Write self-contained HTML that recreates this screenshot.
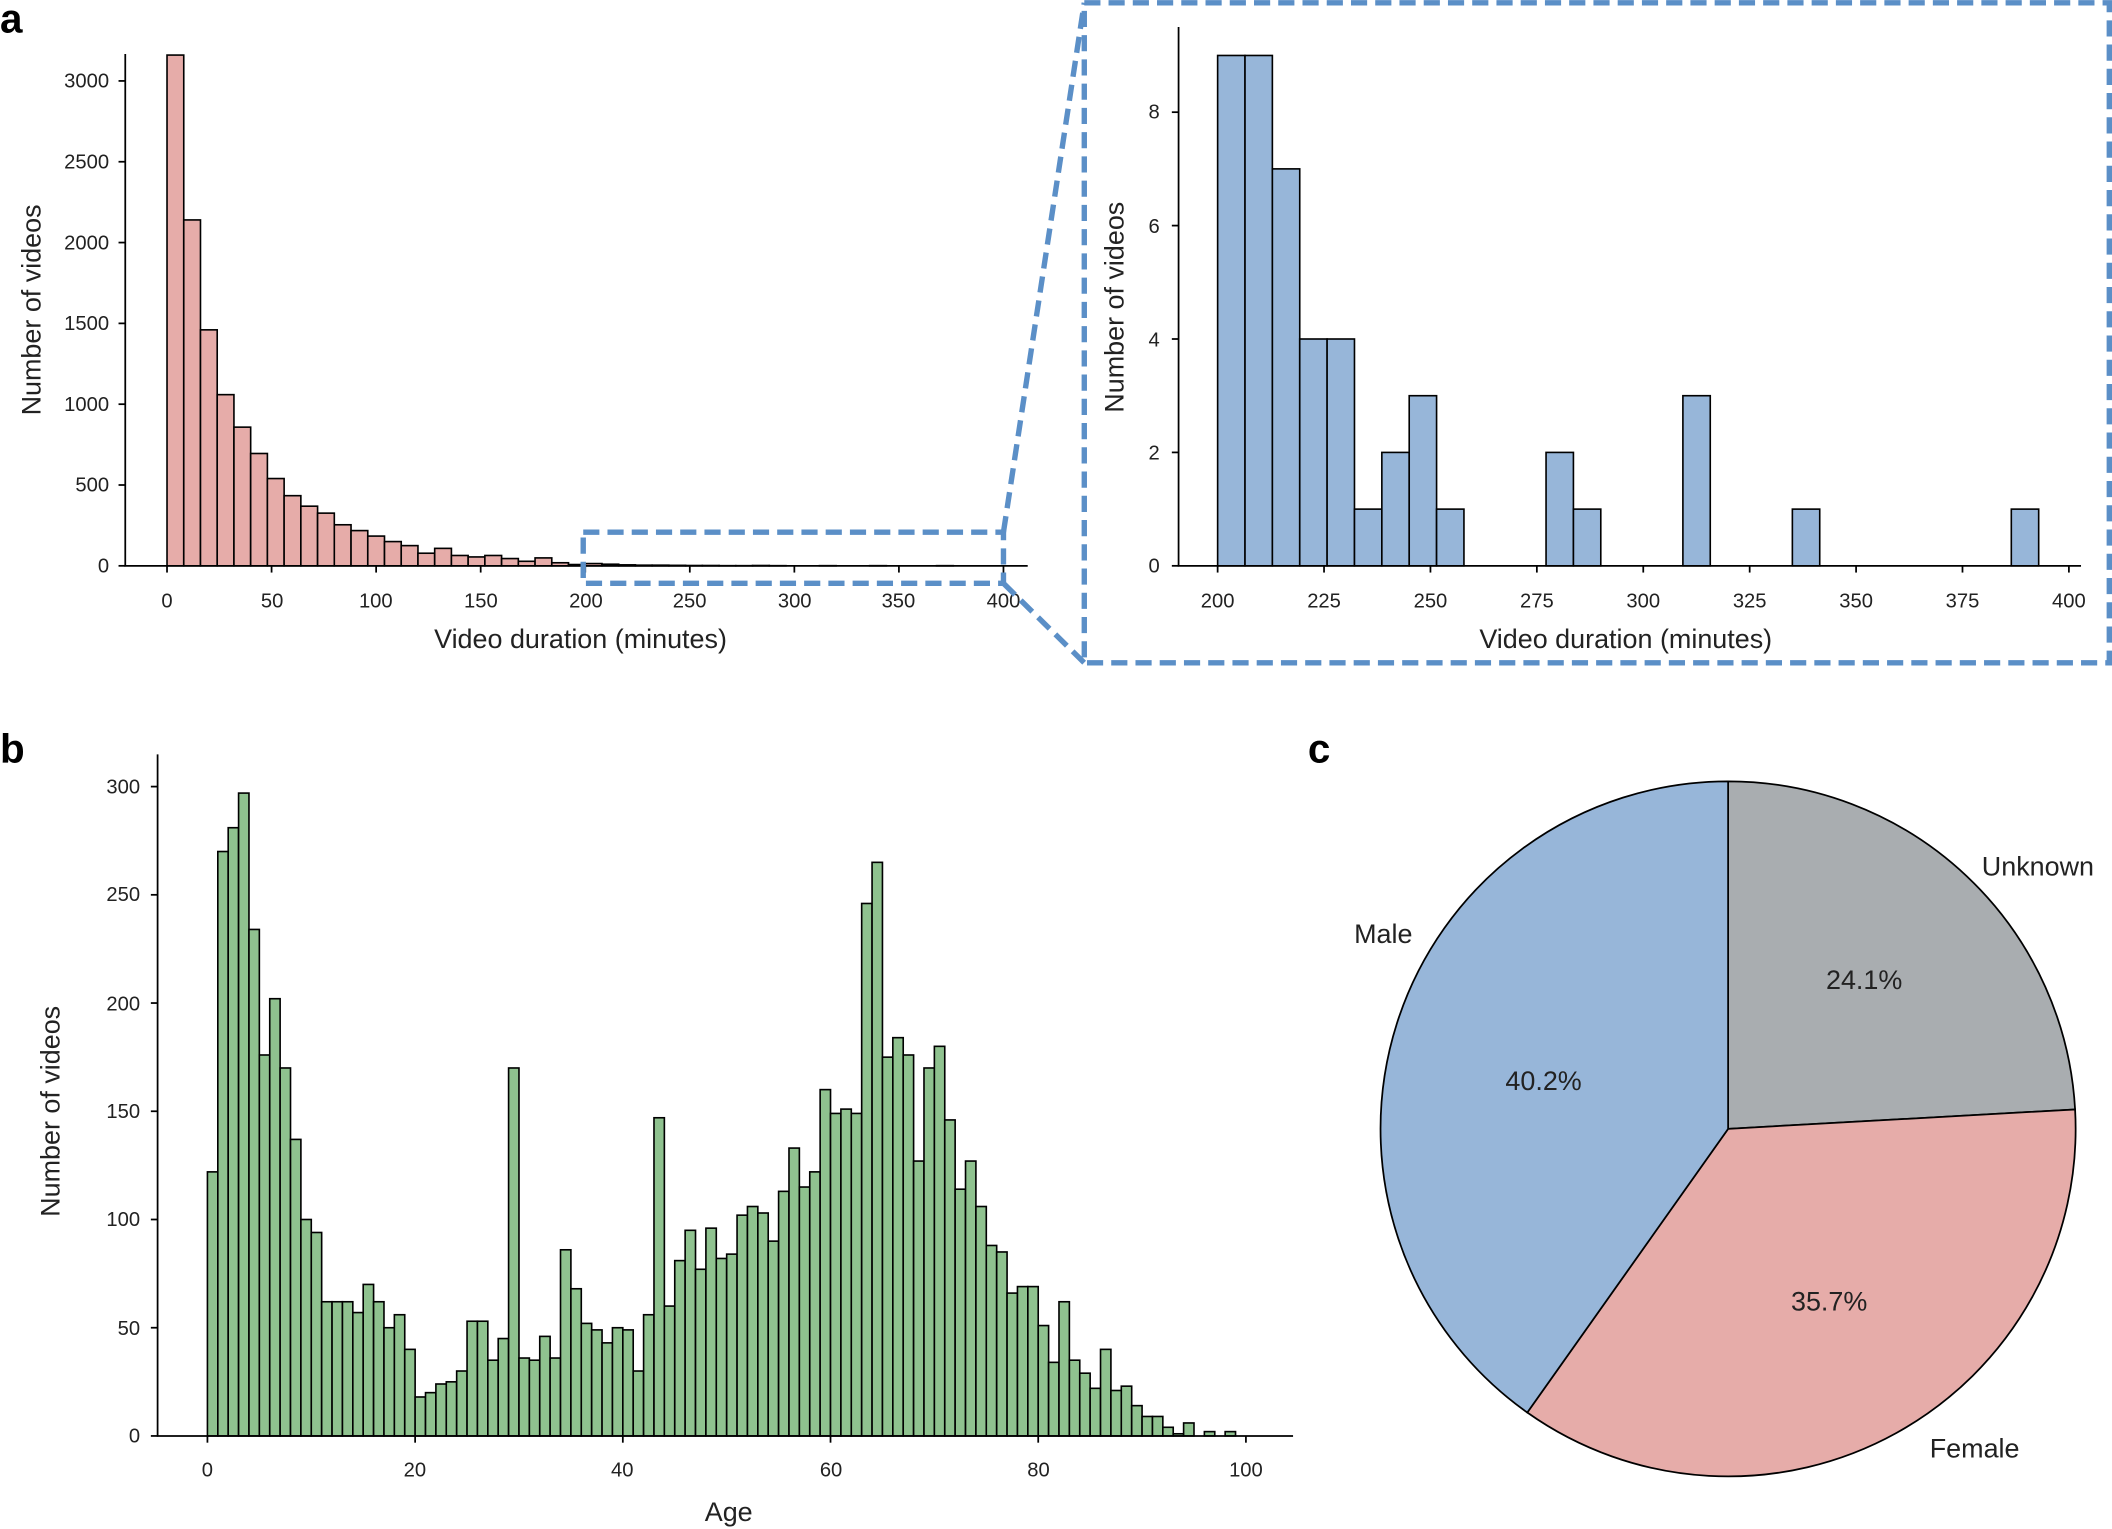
<!DOCTYPE html>
<html><head><meta charset="utf-8"><style>
html,body{margin:0;padding:0;background:#fff;}
svg{display:block;}
text{font-family:"Liberation Sans",Arial,sans-serif;fill:#222;}
.t{font-size:15px;}
.l{font-size:20px;}
.p{font-size:30px;font-weight:bold;fill:#000;}
</style></head><body>
<svg id="s" xmlns="http://www.w3.org/2000/svg" width="2112" height="1529" viewBox="0 0 1568 1135">
<rect width="1568" height="1135" fill="#fff"/>
<g id="ga"></g><g id="gi"></g><g id="gb"></g>
<g stroke="#000" stroke-width="1.3" fill="none">
<path d="M93,40V420H763"/>
<path d="M875,20V420H1545"/>
<path d="M117,560V1066H960"/>
</g>
<g id="ticks" stroke="#000" stroke-width="1.3"></g>
<g class="t" text-anchor="end">
<text x="81" y="425" class="t">0</text><text x="81" y="365" class="t">500</text><text x="81" y="305" class="t">1000</text><text x="81" y="245" class="t">1500</text><text x="81" y="185" class="t">2000</text><text x="81" y="125" class="t">2500</text><text x="81" y="65" class="t">3000</text>
</g>
<g class="t" text-anchor="middle">
<text x="124" y="451">0</text><text x="202" y="451">50</text><text x="279" y="451">100</text><text x="357" y="451">150</text><text x="435" y="451">200</text><text x="512" y="451">250</text><text x="590" y="451">300</text><text x="667" y="451">350</text><text x="745" y="451">400</text>
</g>
<text class="l" x="431" y="481" text-anchor="middle">Video duration (minutes)</text>
<text class="l" x="0" y="0" text-anchor="middle" transform="translate(30,230) rotate(-90)">Number of videos</text>
<g class="t" text-anchor="end">
<text x="861" y="425">0</text><text x="861" y="341">2</text><text x="861" y="257">4</text><text x="861" y="173">6</text><text x="861" y="88">8</text>
</g>
<g class="t" text-anchor="middle">
<text x="904" y="451">200</text><text x="983" y="451">225</text><text x="1062" y="451">250</text><text x="1141" y="451">275</text><text x="1220" y="451">300</text><text x="1299" y="451">325</text><text x="1378" y="451">350</text><text x="1457" y="451">375</text><text x="1536" y="451">400</text>
</g>
<text class="l" x="1207" y="481" text-anchor="middle">Video duration (minutes)</text>
<text class="l" x="0" y="0" text-anchor="middle" transform="translate(834,228) rotate(-90)">Number of videos</text>
<g class="t" text-anchor="end">
<text x="104" y="1071">0</text><text x="104" y="991">50</text><text x="104" y="910">100</text><text x="104" y="830">150</text><text x="104" y="750">200</text><text x="104" y="669">250</text><text x="104" y="589">300</text>
</g>
<g class="t" text-anchor="middle">
<text x="154" y="1096">0</text><text x="308" y="1096">20</text><text x="462" y="1096">40</text><text x="617" y="1096">60</text><text x="771" y="1096">80</text><text x="925" y="1096">100</text>
</g>
<text class="l" x="541" y="1129" text-anchor="middle">Age</text>
<text class="l" x="0" y="0" text-anchor="middle" transform="translate(44,825) rotate(-90)">Number of videos</text>
<g stroke="#5b8fc7" stroke-width="4" fill="none" stroke-dasharray="12,6">
<rect x="433" y="395" width="312" height="38"/>
<rect x="805" y="2" width="761" height="490"/>
<path d="M745,395L805,2M745,433L805,492"/>
</g>
<g stroke="#000" stroke-width="1.3">
<path d="M1283,838L1283,580A258,258 0 0 1 1540.6,823.6Z" fill="#a9adb0"/>
<path d="M1283,838L1540.6,823.6A258,258 0 0 1 1133.9,1048.6Z" fill="#e6aca9"/>
<path d="M1283,838L1133.9,1048.6A258,258 0 0 1 1283,580Z" fill="#97b6d9"/>
</g>
<g class="l" text-anchor="middle">
<text x="1384" y="734">24.1%</text><text x="1146" y="809">40.2%</text><text x="1358" y="973">35.7%</text>
<text x="1513" y="650">Unknown</text><text x="1027" y="700">Male</text><text x="1466" y="1082">Female</text>
</g>
<text class="p" x="0" y="24">a</text>
<text class="p" x="0" y="566">b</text>
<text class="p" x="971" y="566">c</text>
</svg>
<script>
var NS="http://www.w3.org/2000/svg";
function R(g,x,y,w,h,f){var r=document.createElementNS(NS,"rect");r.setAttribute("x",x);r.setAttribute("y",y);r.setAttribute("width",w);r.setAttribute("height",h);r.setAttribute("fill",f);r.setAttribute("stroke","#000");r.setAttribute("stroke-width","1.2");document.getElementById(g).appendChild(r);}
function L(x1,y1,x2,y2){var l=document.createElementNS(NS,"line");l.setAttribute("x1",x1);l.setAttribute("y1",y1);l.setAttribute("x2",x2);l.setAttribute("y2",y2);document.getElementById("ticks").appendChild(l);}
var a=[3160,2140,1460,1059,858,695,540,434,369,326,254,218,184,150,125,78,108,64,55,64,45,28,49,19,8,14,10,6,4,4,3,2,2,1,1,2,1,0,0,1,0,0,1,0,0,0,1,0,0,0];
var bw=8*1.5525;
for(var i=0;i<a.length;i++){var h=a[i]*0.12;R("ga",124+i*bw,420-h,bw,h,"#e6aca9");}
var b={0:9,1:9,2:7,3:4,4:4,5:1,6:2,7:3,8:1,12:2,13:1,17:3,21:1,29:1};
var iw=6.43*3.16;
for(var i=0;i<30;i++){var v=b[i]||0;var h=v*42.1;R("gi",904+i*iw,420-h,iw,h,"#97b6d9");}
var c=[122,270,281,297,234,176,202,170,137,100,94,62,62,62,57,70,62,50,56,40,18,20,24,25,30,53,53,35,45,170,36,35,46,36,86,68,52,49,43,50,49,30,56,147,60,81,95,77,96,82,84,102,106,103,90,113,133,115,122,160,149,151,149,246,265,175,184,176,127,170,180,146,114,127,106,88,85,66,69,69,51,34,62,35,29,22,40,21,23,14,9,9,4,1,6,0,2,0,2,0];
for(var i=0;i<c.length;i++){var h=c[i]*1.607;R("gb",154+i*7.71,1066-h,7.71,h,"#8fc28f");}
[0,500,1000,1500,2000,2500,3000].forEach(function(v){L(88,420-v*0.12,93,420-v*0.12);});
for(var v=0;v<=400;v+=50)L(124+v*1.5525,420,124+v*1.5525,425);
[0,2,4,6,8].forEach(function(v){L(870,420-v*42.1,875,420-v*42.1);});
for(var v=200;v<=400;v+=25)L(904+(v-200)*3.16,420,904+(v-200)*3.16,425);
for(var v=0;v<=300;v+=50)L(112,1066-v*1.607,117,1066-v*1.607);
for(var v=0;v<=100;v+=20)L(154+v*7.71,1066,154+v*7.71,1071);
</script>
</body></html>
